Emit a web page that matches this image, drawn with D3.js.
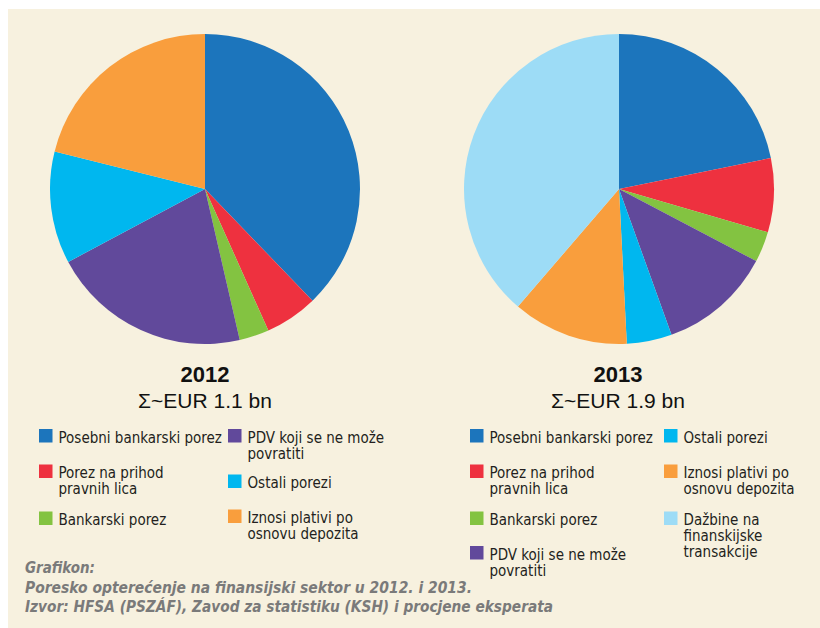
<!DOCTYPE html>
<html>
<head>
<meta charset="utf-8">
<script src="https://cdn.jsdelivr.net/npm/d3@7"></script>
<style>
  html, body { margin: 0; padding: 0; background: #ffffff; }
  svg { display: block; }
  .legend text { font-family: "Liberation Sans Narrow", "DejaVu Sans Condensed", sans-serif; font-size: 15px; fill: #231f20; }
  .title { font-family: "Liberation Sans", Arial, sans-serif; fill: #111; }
  .footer { font-family: "Liberation Sans Narrow", "DejaVu Sans Condensed", sans-serif; font-size: 16px; font-weight: bold; font-style: italic; fill: #7a7a7a; }
</style>
</head>
<body>
<svg id="chart" width="820" height="628"></svg>
<script>
// Tax categories (legend labels, one entry per printed line)
const catBankTax   = ["Posebni bankarski porez"];
const catCorpTax   = ["Porez na prihod", "pravnih lica"];
const catBankLevy  = ["Bankarski porez"];
const catVat       = ["PDV koji se ne može", "povratiti"];
const catOther     = ["Ostali porezi"];
const catDeposit   = ["Iznosi plativi po", "osnovu depozita"];
const catTransact  = ["Dažbine na", "finanskijske", "transakcije"];

// Share of the total tax burden (%) per year, in slice order
const categories2012 = ["bank", "corp", "levy", "vat", "other", "deposit"];
const values2012     = [37.8, 5.5, 3.1, 20.8, 11.7, 21.1];
const categories2013 = ["bank", "corp", "levy", "vat", "other", "deposit", "transact"];
const values2013     = [21.8, 7.7, 3.2, 11.8, 4.7, 12.1, 38.7];

const years  = ["2012", "2013"];
const totals = ["Σ~EUR 1.1 bn", "Σ~EUR 1.9 bn"];

const footerLines = [
  "Grafikon:",
  "Poresko opterećenje na finansijski sektor u 2012. i 2013.",
  "Izvor: HFSA (PSZÁF), Zavod za statistiku (KSH) i procjene eksperata"
];

const labelOf = {
  bank: catBankTax, corp: catCorpTax, levy: catBankLevy, vat: catVat,
  other: catOther, deposit: catDeposit, transact: catTransact
};

const color = d3.scaleOrdinal()
  .domain(["bank", "corp", "levy", "vat", "other", "deposit", "transact"])
  .range(["#1c75bc", "#ee313f", "#83c341", "#61499b", "#00b7ef", "#f99e3d", "#9ddcf6"]);

const svg = d3.select("#chart");

// cream panel
svg.append("rect").attr("x", 8).attr("y", 9).attr("width", 812).attr("height", 619).attr("fill", "#f7f1df");

const radius = 155;
const pie = d3.pie().sort(null).value(d => d.value);
const arc = d3.arc().innerRadius(0).outerRadius(radius);

// Layout of each panel: pie centre, title centre, legend columns and row tops
const panels = [
  {
    cats: categories2012, vals: values2012, cx: 205, cy: 189, tx: 205,
    legend: [
      { key: "bank", x: 39, y: 429 }, { key: "corp", x: 39, y: 464.5 }, { key: "levy", x: 39, y: 511.5 },
      { key: "vat", x: 228, y: 429 }, { key: "other", x: 228, y: 474.5 }, { key: "deposit", x: 228, y: 509.5 }
    ]
  },
  {
    cats: categories2013, vals: values2013, cx: 619, cy: 189, tx: 618,
    legend: [
      { key: "bank", x: 470, y: 429 }, { key: "corp", x: 470, y: 464.5 }, { key: "levy", x: 470, y: 511.5 },
      { key: "vat", x: 470, y: 546 },
      { key: "other", x: 664, y: 429 }, { key: "deposit", x: 664, y: 464.5 }, { key: "transact", x: 664, y: 511.5 }
    ]
  }
];

panels.forEach((p, i) => {
  const data = p.cats.map((c, j) => ({ key: c, value: p.vals[j] }));
  const g = svg.append("g").attr("transform", `translate(${p.cx},${p.cy})`);
  g.selectAll("path")
    .data(pie(data))
    .join("path")
    .attr("d", arc)
    .attr("fill", d => color(d.data.key));

  svg.append("text").attr("class", "title")
    .attr("x", p.tx).attr("y", 382)
    .attr("text-anchor", "middle")
    .style("font-size", "22px").style("font-weight", "bold")
    .text(years[i]);
  svg.append("text").attr("class", "title")
    .attr("x", p.tx).attr("y", 408)
    .attr("text-anchor", "middle")
    .style("font-size", "21px")
    .text(totals[i]);

  const lg = svg.append("g").attr("class", "legend");
  const items = lg.selectAll("g").data(p.legend).join("g")
    .attr("transform", d => `translate(${d.x},${d.y})`);
  items.append("rect")
    .attr("width", 13.5).attr("height", 13.5)
    .attr("fill", d => color(d.key));
  items.append("text")
    .attr("x", 19.5).attr("y", 13.5)
    .selectAll("tspan")
    .data(d => labelOf[d.key])
    .join("tspan")
    .attr("x", 19.5)
    .attr("dy", (d, k) => k === 0 ? 0 : 16)
    .text(d => d);
});

// caption and source lines, fitted to their printed widths
const footerWidths = [70, 447, 528];
svg.selectAll("text.footer")
  .data(footerLines)
  .join("text")
  .attr("class", "footer")
  .attr("x", 25)
  .attr("y", (d, i) => [573, 593, 612][i])
  .attr("textLength", (d, i) => footerWidths[i])
  .attr("lengthAdjust", "spacingAndGlyphs")
  .text(d => d);
</script>
</body>
</html>
